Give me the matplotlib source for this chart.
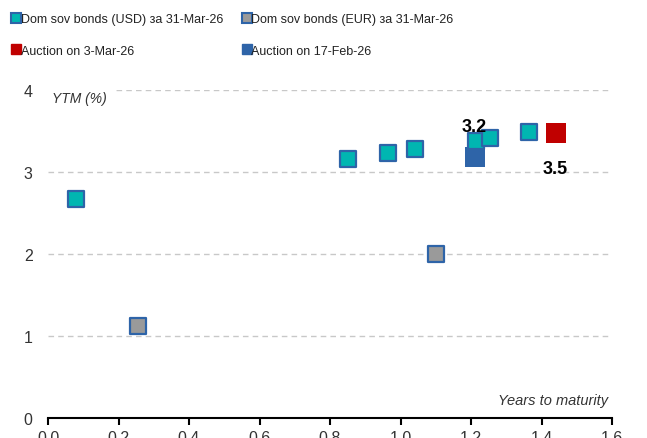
import matplotlib
matplotlib.use("Agg")
import matplotlib.pyplot as plt
from matplotlib.lines import Line2D

plt.rcParams['font.family'] = ['Liberation Sans Narrow', 'Liberation Sans', 'DejaVu Sans']

# data
usd_years = [0.08, 0.85, 0.965, 1.04, 1.215, 1.255, 1.365]
usd_ytm = [2.67, 3.16, 3.23, 3.28, 3.38, 3.41, 3.49]
eur_years = [0.255, 1.10]
eur_ytm = [1.12, 2.00]
auc_mar_years = [1.44]
auc_mar_ytm = [3.48]
auc_feb_years = [1.21]
auc_feb_ytm = [3.18]

teal = '#00B6B1'
grey = '#9A9A9A'
edge = '#2E64A8'
red = '#C00000'
blue = '#2E64A8'

fig = plt.figure(figsize=(6.47, 4.39), dpi=100)
ax = fig.add_axes([48 / 647, 20 / 439, 564 / 647, 328 / 439])

ax.scatter(usd_years, usd_ytm, marker='s', s=135, color=teal, edgecolors=edge, linewidths=1.6, zorder=3)
ax.scatter(eur_years, eur_ytm, marker='s', s=135, color=grey, edgecolors=edge, linewidths=1.6, zorder=3)
ax.scatter(auc_feb_years, auc_feb_ytm, marker='s', s=210, color=blue, linewidths=0, zorder=2)
ax.scatter(auc_mar_years, auc_mar_ytm, marker='s', s=210, color=red, linewidths=0, zorder=3)

ax.annotate('3.2', (auc_feb_years[0], auc_feb_ytm[0]), xytext=(0, 22), textcoords='offset points',
            ha='center', va='center', fontsize=13, fontweight='bold', zorder=5)
ax.annotate('3.5', (auc_mar_years[0], auc_mar_ytm[0]), xytext=(0, -26), textcoords='offset points',
            ha='center', va='center', fontsize=13, fontweight='bold', zorder=5)

ax.set_xlim(0, 1.6)
ax.set_ylim(0, 4)
ax.set_xticks([0, 0.2, 0.4, 0.6, 0.8, 1.0, 1.2, 1.4, 1.6])
ax.set_xticklabels(['0.0', '0.2', '0.4', '0.6', '0.8', '1.0', '1.2', '1.4', '1.6'])
ax.set_yticks([0, 1, 2, 3, 4])
ax.yaxis.grid(True, linestyle=(0, (4, 3)), color='#C8C8C8', linewidth=1)
ax.set_axisbelow(True)
for s in ['left', 'right', 'top']:
    ax.spines[s].set_visible(False)
ax.spines['bottom'].set_linewidth(1.5)
ax.tick_params(axis='y', length=0, labelsize=11.5, pad=11, colors='#333333')
ax.tick_params(axis='x', direction='out', length=5, width=1.5, labelsize=11.5, colors='black', labelcolor='#333333')

ax.text(0.012, 3.9, 'YTM (%)', fontsize=10, style='italic', va='center', ha='left',
        color='#333333', backgroundcolor='white', zorder=4)
ax.text(1.59, 0.22, 'Years to maturity', fontsize=10.5, style='italic', va='center', ha='right', color='#333333')

handles = [
    Line2D([], [], marker='s', linestyle='none', markersize=7.5, markerfacecolor=teal, markeredgecolor=edge, markeredgewidth=1.5),
    Line2D([], [], marker='s', linestyle='none', markersize=7.5, markerfacecolor=grey, markeredgecolor=edge, markeredgewidth=1.5),
    Line2D([], [], marker='s', linestyle='none', markersize=7.5, markerfacecolor=red, markeredgecolor=red),
    Line2D([], [], marker='s', linestyle='none', markersize=7.5, markerfacecolor=blue, markeredgecolor=blue),
]
labels = ['Dom sov bonds (USD) за 31-Mar-26', 'Dom sov bonds (EUR) за 31-Mar-26',
          'Auction on 3-Mar-26', 'Auction on 17-Feb-26']
fig.legend([handles[0], handles[2], handles[1], handles[3]], [labels[0], labels[2], labels[1], labels[3]],
           ncol=2, loc='upper left', bbox_to_anchor=(-0.003, 1.0), frameon=False, fontsize=9,
           handlelength=0.6, handletextpad=0.05, columnspacing=1.6, labelspacing=1.55, borderaxespad=0.75,
           labelcolor='#222222')

fig.savefig('out.png', dpi=100)
